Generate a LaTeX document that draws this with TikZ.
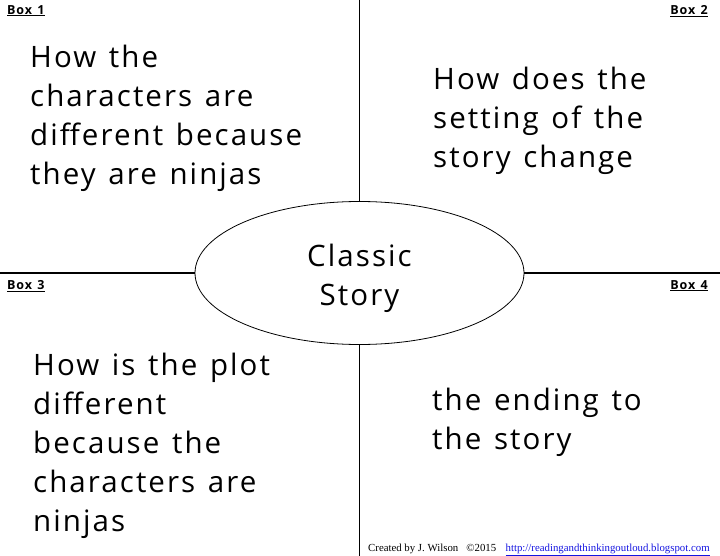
\documentclass[tikz,border=0pt]{standalone}
\usepackage{fontspec}
\setmainfont{Open Sans}[LetterSpace=7.0, WordSpace=1.3]
\newfontfamily\footfont{Liberation Serif}
\usepackage{xcolor}
\definecolor{linkblue}{RGB}{20,20,225}
\usetikzlibrary{shapes.geometric, positioning}

\begin{document}
\begin{tikzpicture}[x=1pt, y=-1pt,
    boxtxt/.style={anchor=north west, align=left, inner sep=0pt,
                   font=\fontsize{29.5}{39}\selectfont},
    boxlbl/.style={inner sep=0pt, font=\bfseries\fontsize{12.5}{14}\selectfont},
    hub/.style={draw, ellipse, line width=0.8pt, inner sep=0pt,
                minimum width=329pt, minimum height=143pt},
    divider/.style={line width=1.6pt},
    foot/.style={inner sep=0pt, anchor=base west, font=\footfont\fontsize{10.8}{12}\selectfont}]
  \useasboundingbox (0,0) rectangle (720,556);
  % centre oval and the four dividers
  \node[hub] (hub) at (359.5,273) {};
  \node[align=center, inner sep=0pt, font=\fontsize{29.5}{39}\selectfont]
        (hubtxt) at ([yshift=-5pt]hub.center) {Classic\\Story};
  \coordinate (top) at (hub.north |- 0,0);
  \coordinate (bot) at (hub.south |- 0,556);
  \coordinate (lft) at (0,0 |- hub.west);
  \coordinate (rgt) at (720,0 |- hub.east);
  \draw[divider] (top) -- (hub.north);
  \draw[divider] (hub.south) -- (bot);
  \draw[divider] (lft) -- (hub.west);
  \draw[divider] (hub.east) -- (rgt);
  % box labels
  \node[boxlbl, anchor=north west] (lbl1) at (7,5)   {\underline{Box 1}};
  \node[boxlbl, anchor=north east] (lbl2) at (708,5) {\underline{Box 2}};
  \node[boxlbl, anchor=north west] (lbl3) at (7,280) {\underline{Box 3}};
  \node[boxlbl, anchor=north east] (lbl4) at (708,280) {\underline{Box 4}};
  % box texts
  \node[boxtxt] (txt1) at (30,45)  {How the\\characters are\\different because\\they are ninjas};
  \node[boxtxt] (txt2) at (433,67) {How does the\\setting of the\\story change};
  \node[boxtxt] (txt3) at (33,353) {How is the plot\\different\\because the\\characters are\\ninjas};
  \node[boxtxt] (txt4) at (432,388) {the ending to\\the story};
  % credit line
  \node[foot] (credit) at (368,551) {Created by J. Wilson \ \ \textcopyright2015};
  \node[foot, right=9pt of credit.base east, anchor=base west, text=linkblue]
        (link) {\underline{http://readingandthinkingoutloud.blogspot.com}};
\end{tikzpicture}
\end{document}
